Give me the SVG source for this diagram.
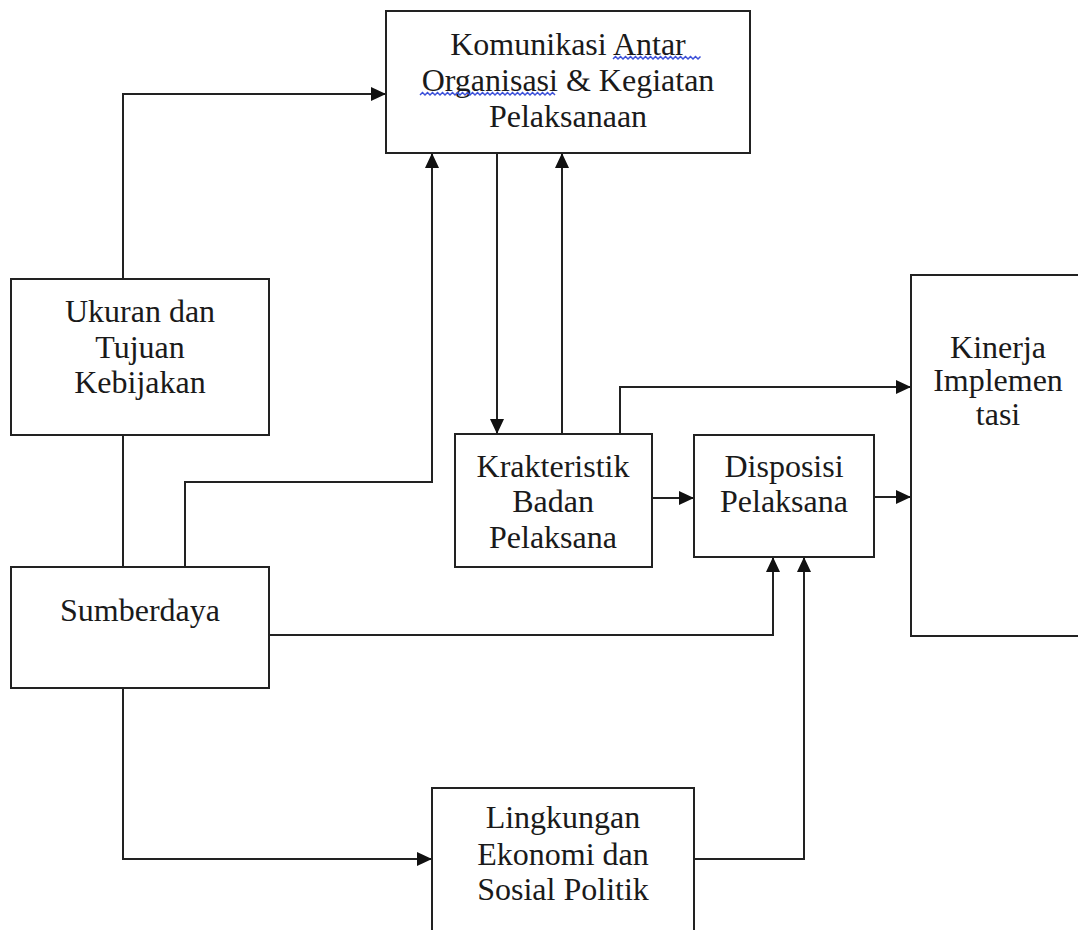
<svg xmlns="http://www.w3.org/2000/svg" width="1078" height="930" viewBox="0 0 1078 930">
<style>
.box{fill:#fff;stroke:#222;stroke-width:2}
.lbl{font-family:'Liberation Serif','DejaVu Serif',serif;font-size:32px;fill:#1a1a1a;text-anchor:middle}
.con{fill:none;stroke:#222;stroke-width:2}
.sq{fill:none;stroke:#3b4fd8;stroke-width:1.5}
</style>
<defs>
<marker id="ah" markerUnits="userSpaceOnUse" markerWidth="16" markerHeight="14" refX="15" refY="7" orient="auto">
<path d="M0,0 L15,7 L0,14 z" fill="#111"/>
</marker>
</defs>
<rect width="1078" height="930" fill="#fff"/>
<g id="connectors">
<path class="con" d="M123,279 V94 H386" marker-end="url(#ah)"/>
<path class="con" d="M123,435 V567"/>
<path class="con" d="M185,567 V482 H432 V153" marker-end="url(#ah)"/>
<path class="con" d="M497,153 V434" marker-end="url(#ah)"/>
<path class="con" d="M562,434 V153" marker-end="url(#ah)"/>
<path class="con" d="M620,434 V387 H911" marker-end="url(#ah)"/>
<path class="con" d="M652,498 H694" marker-end="url(#ah)"/>
<path class="con" d="M874,497 H911" marker-end="url(#ah)"/>
<path class="con" d="M269,635 H773 V557" marker-end="url(#ah)"/>
<path class="con" d="M123,688 V859 H432" marker-end="url(#ah)"/>
<path class="con" d="M694,859 H804 V557" marker-end="url(#ah)"/>
</g>
<g id="node-komunikasi">
<rect class="box" x="386" y="11" width="364" height="142"/>
<text class="lbl" x="568" y="55">Komunikasi Antar</text>
<text class="lbl" x="568" y="91">Organisasi &amp; Kegiatan</text>
<text class="lbl" x="568" y="127">Pelaksanaan</text>
<path class="sq" d="M613,59 l2.5,-2.5 l2.5,2.5 l2.5,-2.5 l2.5,2.5 l2.5,-2.5 l2.5,2.5 l2.5,-2.5 l2.5,2.5 l2.5,-2.5 l2.5,2.5 l2.5,-2.5 l2.5,2.5 l2.5,-2.5 l2.5,2.5 l2.5,-2.5 l2.5,2.5 l2.5,-2.5 l2.5,2.5 l2.5,-2.5 l2.5,2.5 l2.5,-2.5 l2.5,2.5 l2.5,-2.5 l2.5,2.5 l2.5,-2.5 l2.5,2.5 l2.5,-2.5 l2.5,2.5 l2.5,-2.5 l2.5,2.5 l2.5,-2.5 l2.5,2.5 l2.5,-2.5 l2.5,2.5 l2.5,-2.5"/>
<path class="sq" d="M420,95 l2.5,-2.5 l2.5,2.5 l2.5,-2.5 l2.5,2.5 l2.5,-2.5 l2.5,2.5 l2.5,-2.5 l2.5,2.5 l2.5,-2.5 l2.5,2.5 l2.5,-2.5 l2.5,2.5 l2.5,-2.5 l2.5,2.5 l2.5,-2.5 l2.5,2.5 l2.5,-2.5 l2.5,2.5 l2.5,-2.5 l2.5,2.5 l2.5,-2.5 l2.5,2.5 l2.5,-2.5 l2.5,2.5 l2.5,-2.5 l2.5,2.5 l2.5,-2.5 l2.5,2.5 l2.5,-2.5 l2.5,2.5 l2.5,-2.5 l2.5,2.5 l2.5,-2.5 l2.5,2.5 l2.5,-2.5 l2.5,2.5 l2.5,-2.5 l2.5,2.5 l2.5,-2.5 l2.5,2.5 l2.5,-2.5 l2.5,2.5 l2.5,-2.5 l2.5,2.5 l2.5,-2.5 l2.5,2.5 l2.5,-2.5 l2.5,2.5 l2.5,-2.5 l2.5,2.5 l2.5,-2.5 l2.5,2.5 l2.5,-2.5 l2.5,2.5"/>
</g>
<g id="node-ukuran">
<rect class="box" x="11" y="279" width="258" height="156"/>
<text class="lbl" x="140" y="322">Ukuran dan</text>
<text class="lbl" x="140" y="358">Tujuan</text>
<text class="lbl" x="140" y="393">Kebijakan</text>
</g>
<g id="node-sumberdaya">
<rect class="box" x="11" y="567" width="258" height="121"/>
<text class="lbl" x="140" y="621">Sumberdaya</text>
</g>
<g id="node-krakteristik">
<rect class="box" x="455" y="434" width="197" height="133"/>
<text class="lbl" x="553" y="477">Krakteristik</text>
<text class="lbl" x="553" y="512">Badan</text>
<text class="lbl" x="553" y="548">Pelaksana</text>
</g>
<g id="node-disposisi">
<rect class="box" x="694" y="435" width="180" height="122"/>
<text class="lbl" x="784" y="477">Disposisi</text>
<text class="lbl" x="784" y="512">Pelaksana</text>
</g>
<g id="node-kinerja">
<rect class="box" x="911" y="275" width="180" height="361"/>
<text class="lbl" x="998" y="358">Kinerja</text>
<text class="lbl" x="998" y="391">Implemen</text>
<text class="lbl" x="998" y="425">tasi</text>
</g>
<g id="node-lingkungan">
<rect class="box" x="432" y="788" width="262" height="160"/>
<text class="lbl" x="563" y="828">Lingkungan</text>
<text class="lbl" x="563" y="865">Ekonomi dan</text>
<text class="lbl" x="563" y="900">Sosial Politik</text>
</g>
</svg>
